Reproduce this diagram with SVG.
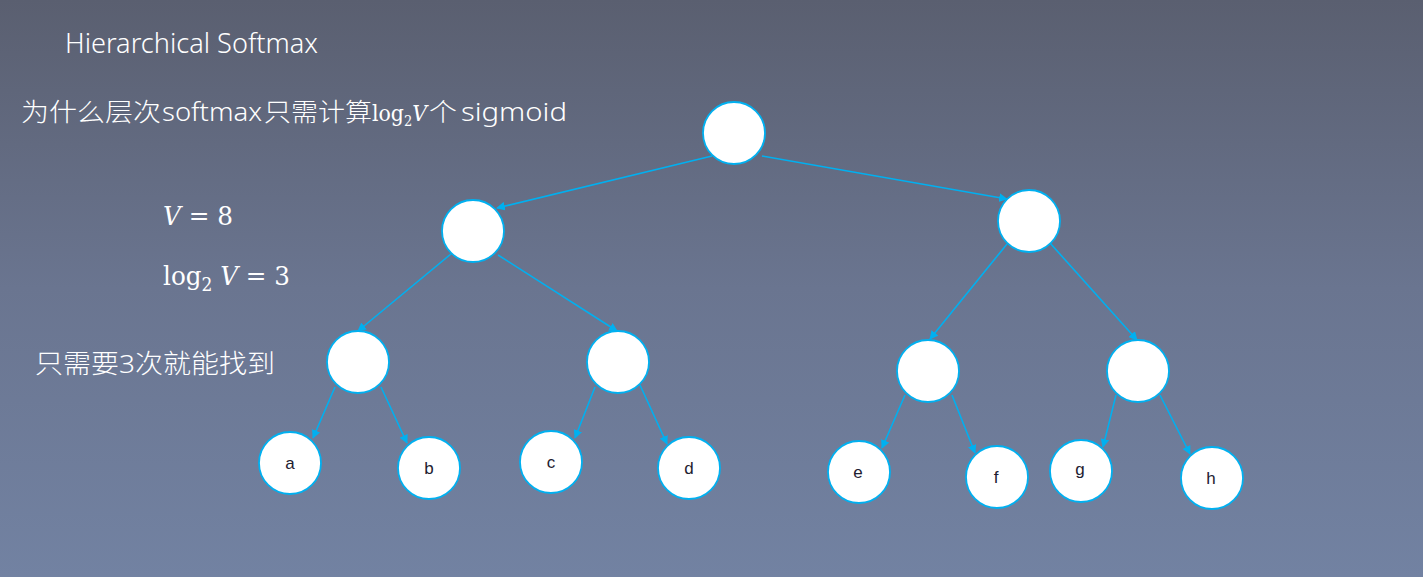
<svg xmlns="http://www.w3.org/2000/svg" width="1423" height="577" viewBox="0 0 1423 577">
<defs>
<linearGradient id="bg" x1="0" y1="0" x2="0" y2="1">
<stop offset="0" stop-color="#5a5f70"/>
<stop offset="0.5" stop-color="#6a7590"/>
<stop offset="1" stop-color="#7282a2"/>
</linearGradient>
<marker id="ah" viewBox="0 0 10 10" refX="9" refY="5" markerWidth="5.5" markerHeight="5.5" orient="auto" markerUnits="strokeWidth">
<path d="M0,0 L10,5 L0,10 z" fill="#00b0f0"/>
</marker>
<style>
.n{fill:#fff;stroke:#00b0f0;stroke-width:1.8}
.e{stroke:#00b0f0;stroke-width:1.6;fill:none;marker-end:url(#ah)}
.lbl{font-family:"Liberation Sans",Arial,sans-serif;font-size:17px;fill:#1e2030;text-anchor:middle}
.t{fill:#fff;font-family:"Noto Sans","Noto Sans CJK SC",sans-serif;font-weight:300}
.m{fill:#fff;font-family:"DejaVu Serif","Liberation Serif",serif}
</style>
</defs>
<rect width="1423" height="577" fill="url(#bg)"/>
<text class="t" x="65" y="53" font-size="27" textLength="253" lengthAdjust="spacingAndGlyphs">Hierarchical Softmax</text>
<g id="question">
<text class="t" x="21" y="121" font-size="25" textLength="140" lengthAdjust="spacingAndGlyphs">为什么层次</text>
<text class="t" x="162" y="121" font-size="25" textLength="100" lengthAdjust="spacingAndGlyphs">softmax</text>
<text class="t" x="264" y="121" font-size="25" textLength="108" lengthAdjust="spacingAndGlyphs">只需计算</text>
<text class="m" x="372" y="121" font-size="22" textLength="55" lengthAdjust="spacingAndGlyphs">log<tspan font-size="14" dy="5">2</tspan><tspan font-style="italic" dy="-5">V</tspan></text>
<text class="t" x="429" y="121" font-size="25" textLength="28" lengthAdjust="spacingAndGlyphs">个</text>
<text class="t" x="461" y="121" font-size="25" textLength="106" lengthAdjust="spacingAndGlyphs">sigmoid</text>
</g>
<text class="m" x="163" y="225" font-size="26" textLength="70" lengthAdjust="spacingAndGlyphs"><tspan font-style="italic">V</tspan> = 8</text>
<text class="m" x="163" y="285" font-size="26" textLength="127" lengthAdjust="spacingAndGlyphs">log<tspan font-size="18" dy="6">2</tspan><tspan dy="-6" font-style="italic"> V</tspan> = 3</text>
<text class="t" x="35" y="373" font-size="26" textLength="240" lengthAdjust="spacingAndGlyphs">只需要3次就能找到</text>
<g id="connectors">
<line class="e" x1="712" y1="156" x2="497" y2="208"/>
<line class="e" x1="762" y1="156" x2="1007" y2="199"/>
<line class="e" x1="451" y1="254" x2="358" y2="331"/>
<line class="e" x1="498" y1="255" x2="617" y2="331"/>
<line class="e" x1="1007" y1="244" x2="930" y2="339"/>
<line class="e" x1="1050" y1="243" x2="1137" y2="340"/>
<line class="e" x1="335" y1="387" x2="313" y2="438"/>
<line class="e" x1="381" y1="387" x2="407" y2="443"/>
<line class="e" x1="595" y1="387" x2="575" y2="438"/>
<line class="e" x1="640" y1="385" x2="667" y2="444"/>
<line class="e" x1="905" y1="395" x2="882" y2="448"/>
<line class="e" x1="952" y1="395" x2="975" y2="453"/>
<line class="e" x1="1116" y1="395" x2="1103" y2="447"/>
<line class="e" x1="1160" y1="395" x2="1190" y2="454"/>
</g>
<g id="root"><circle class="n" cx="734" cy="133" r="31"/></g>
<g id="n1"><circle class="n" cx="473" cy="231" r="31"/></g>
<g id="n2"><circle class="n" cx="1029" cy="221" r="31"/></g>
<g id="n3"><circle class="n" cx="358" cy="362" r="31"/></g>
<g id="n4"><circle class="n" cx="618" cy="362" r="31"/></g>
<g id="n5"><circle class="n" cx="928" cy="371" r="31"/></g>
<g id="n6"><circle class="n" cx="1138" cy="371" r="31"/></g>
<g id="leaf-a"><circle class="n" cx="290" cy="463" r="31"/><text class="lbl" x="290" y="469">a</text></g>
<g id="leaf-b"><circle class="n" cx="429" cy="468" r="31"/><text class="lbl" x="429" y="474">b</text></g>
<g id="leaf-c"><circle class="n" cx="551" cy="462" r="31"/><text class="lbl" x="551" y="468">c</text></g>
<g id="leaf-d"><circle class="n" cx="689" cy="468" r="31"/><text class="lbl" x="689" y="474">d</text></g>
<g id="leaf-e"><circle class="n" cx="859" cy="472" r="31"/><text class="lbl" x="858" y="478">e</text></g>
<g id="leaf-f"><circle class="n" cx="997" cy="477" r="31"/><text class="lbl" x="996" y="483">f</text></g>
<g id="leaf-g"><circle class="n" cx="1081" cy="471" r="31"/><text class="lbl" x="1080" y="475">g</text></g>
<g id="leaf-h"><circle class="n" cx="1212" cy="478" r="31"/><text class="lbl" x="1211" y="484">h</text></g>
</svg>
